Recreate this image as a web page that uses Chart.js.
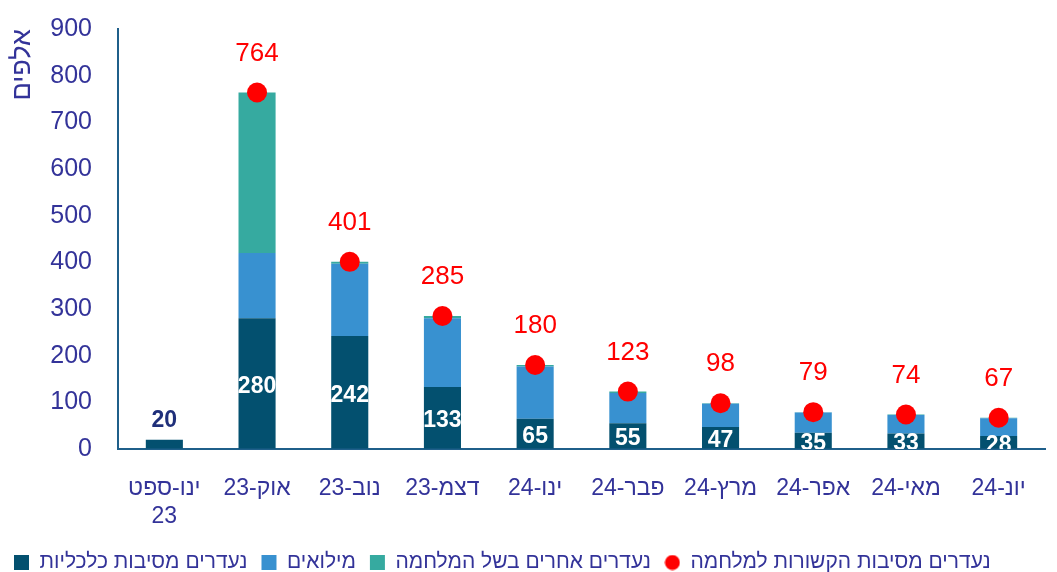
<!DOCTYPE html>
<html>
<head>
<meta charset="utf-8">
<script src="https://cdn.jsdelivr.net/npm/chart.js@4/dist/chart.umd.min.js"></script>
<style>
  html, body { margin: 0; padding: 0; overflow: hidden; background: #fff; }
  #wrap { width: 1057px; height: 583px; position: relative; }
  canvas { direction: rtl; }
</style>
</head>
<body>
<div id="wrap"><canvas id="myChart"></canvas></div>
<script>
// months (thousands of missing workers)
var months = [["ינו-ספט", "23"], "אוק-23", "נוב-23", "דצמ-23", "ינו-24", "פבר-24", "מרץ-24", "אפר-24", "מאי-24", "יונ-24"];
var economic = [20, 280, 242, 133, 65, 55, 47, 35, 33, 28];
var reserves = [0, 140, 155, 147, 112, 65, 50, 43, 40, 38];
var otherWar = [0, 344, 4, 5, 3, 3, 1, 1, 1, 1];
var warRelated = [null, 764, 401, 285, 180, 123, 98, 79, 74, 67];
var yTicks = [0, 100, 200, 300, 400, 500, 600, 700, 800, 900];

var fontName = "'Liberation Sans', 'DejaVu Sans', sans-serif";
var textColor = "#333399";
var axisColor = "#1f5f8a";

// small red dot for the legend
var legendDot = document.createElement("canvas");
legendDot.width = 16;
legendDot.height = 16;
var dctx = legendDot.getContext("2d");
dctx.fillStyle = "#ff0000";
dctx.beginPath();
dctx.arc(8, 8, 7.5, 0, Math.PI * 2);
dctx.fill();

var labelPlugin = {
  id: "barLabels",
  afterDatasetsDraw: function (chart) {
    var ctx = chart.ctx;
    var area = chart.chartArea;
    ctx.save();
    ctx.beginPath();
    ctx.rect(area.left, area.top, area.right - area.left, area.bottom - area.top);
    ctx.clip();
    ctx.textAlign = "center";
    ctx.textBaseline = "middle";
    ctx.font = "bold 23px " + fontName;
    chart.getDatasetMeta(0).data.forEach(function (bar, i) {
      if (i === 0) {
        ctx.fillStyle = "#1f2f7a";
        ctx.fillText(economic[i], bar.x, bar.y - 19);
      } else {
        ctx.fillStyle = "#ffffff";
        ctx.fillText(economic[i], bar.x, (bar.y + bar.base) / 2 + 3);
      }
    });
    ctx.font = "26px " + fontName;
    ctx.fillStyle = "#ff0000";
    chart.getDatasetMeta(3).data.forEach(function (pt, i) {
      if (warRelated[i] == null) return;
      ctx.fillText(warRelated[i], pt.x, pt.y - 39);
    });
    ctx.restore();
  },
};

var ctx = document.getElementById("myChart").getContext("2d");
var myChart = new Chart(ctx, {
  type: "bar",
  data: {
    labels: months,
    datasets: [
      {
        label: "נעדרים מסיבות כלכליות",
        data: economic,
        backgroundColor: "#03506f",
        pointStyle: "rect",
        order: 1,
      },
      {
        label: "מילואים",
        data: reserves,
        backgroundColor: "#3891d0",
        pointStyle: "rect",
        order: 1,
      },
      {
        label: "נעדרים אחרים בשל המלחמה",
        data: otherWar,
        backgroundColor: "#36aaa0",
        pointStyle: "rect",
        order: 1,
      },
      {
        type: "line",
        label: "נעדרים מסיבות הקשורות למלחמה",
        data: warRelated,
        stack: "dots",
        showLine: false,
        pointRadius: 10,
        pointHoverRadius: 10,
        pointBackgroundColor: "#ff0000",
        pointBorderWidth: 0,
        backgroundColor: "#ff0000",
        borderColor: "#ff0000",
        pointStyle: "circle",
        order: 0,
      },
    ],
  },
  options: {
    responsive: true,
    maintainAspectRatio: false,
    animation: false,
    barPercentage: 0.4,
    categoryPercentage: 1,
    layout: { padding: { top: 29, right: 12, left: 0, bottom: 0 } },
    plugins: {
      tooltip: { enabled: false },
      legend: {
        position: "bottom",
        align: "start",
        labels: {
          usePointStyle: true,
          boxWidth: 15,
          boxHeight: 15,
          padding: 14,
          color: textColor,
          font: { family: fontName, size: 21 },
          sort: function (a, b) {
            return a.datasetIndex - b.datasetIndex;
          },
          generateLabels: function (chart) {
            var items = Chart.defaults.plugins.legend.labels.generateLabels(chart);
            items.forEach(function (it) {
              if (it.datasetIndex === 3) it.pointStyle = legendDot;
            });
            return items;
          },
        },
      },
    },
    scales: {
      x: {
        stacked: true,
        grid: { display: false },
        border: { color: axisColor, width: 2 },
        afterFit: function (scale) {
          scale.height = 89;
        },
        ticks: {
          color: textColor,
          padding: 18,
          maxRotation: 0,
          autoSkip: false,
          font: { family: fontName, size: 23 },
        },
      },
      y: {
        stacked: true,
        min: 0,
        max: 900,
        afterFit: function (scale) {
          scale.width = 118;
        },
        afterBuildTicks: function (scale) {
          scale.ticks = yTicks.map(function (v) {
            return { value: v };
          });
        },
        grid: {
          display: true,
          drawOnChartArea: false,
          color: "rgba(0,0,0,0)",
          tickLength: 26,
        },
        border: { color: axisColor, width: 2 },
        title: {
          display: true,
          text: "אלפים",
          align: "end",
          color: textColor,
          padding: { top: 6, bottom: 0 },
          font: { family: fontName, size: 27 },
        },
        ticks: {
          color: textColor,
          padding: 0,
          font: { family: fontName, size: 25 },
        },
      },
    },
  },
  plugins: [labelPlugin],
});
</script>
</body>
</html>
